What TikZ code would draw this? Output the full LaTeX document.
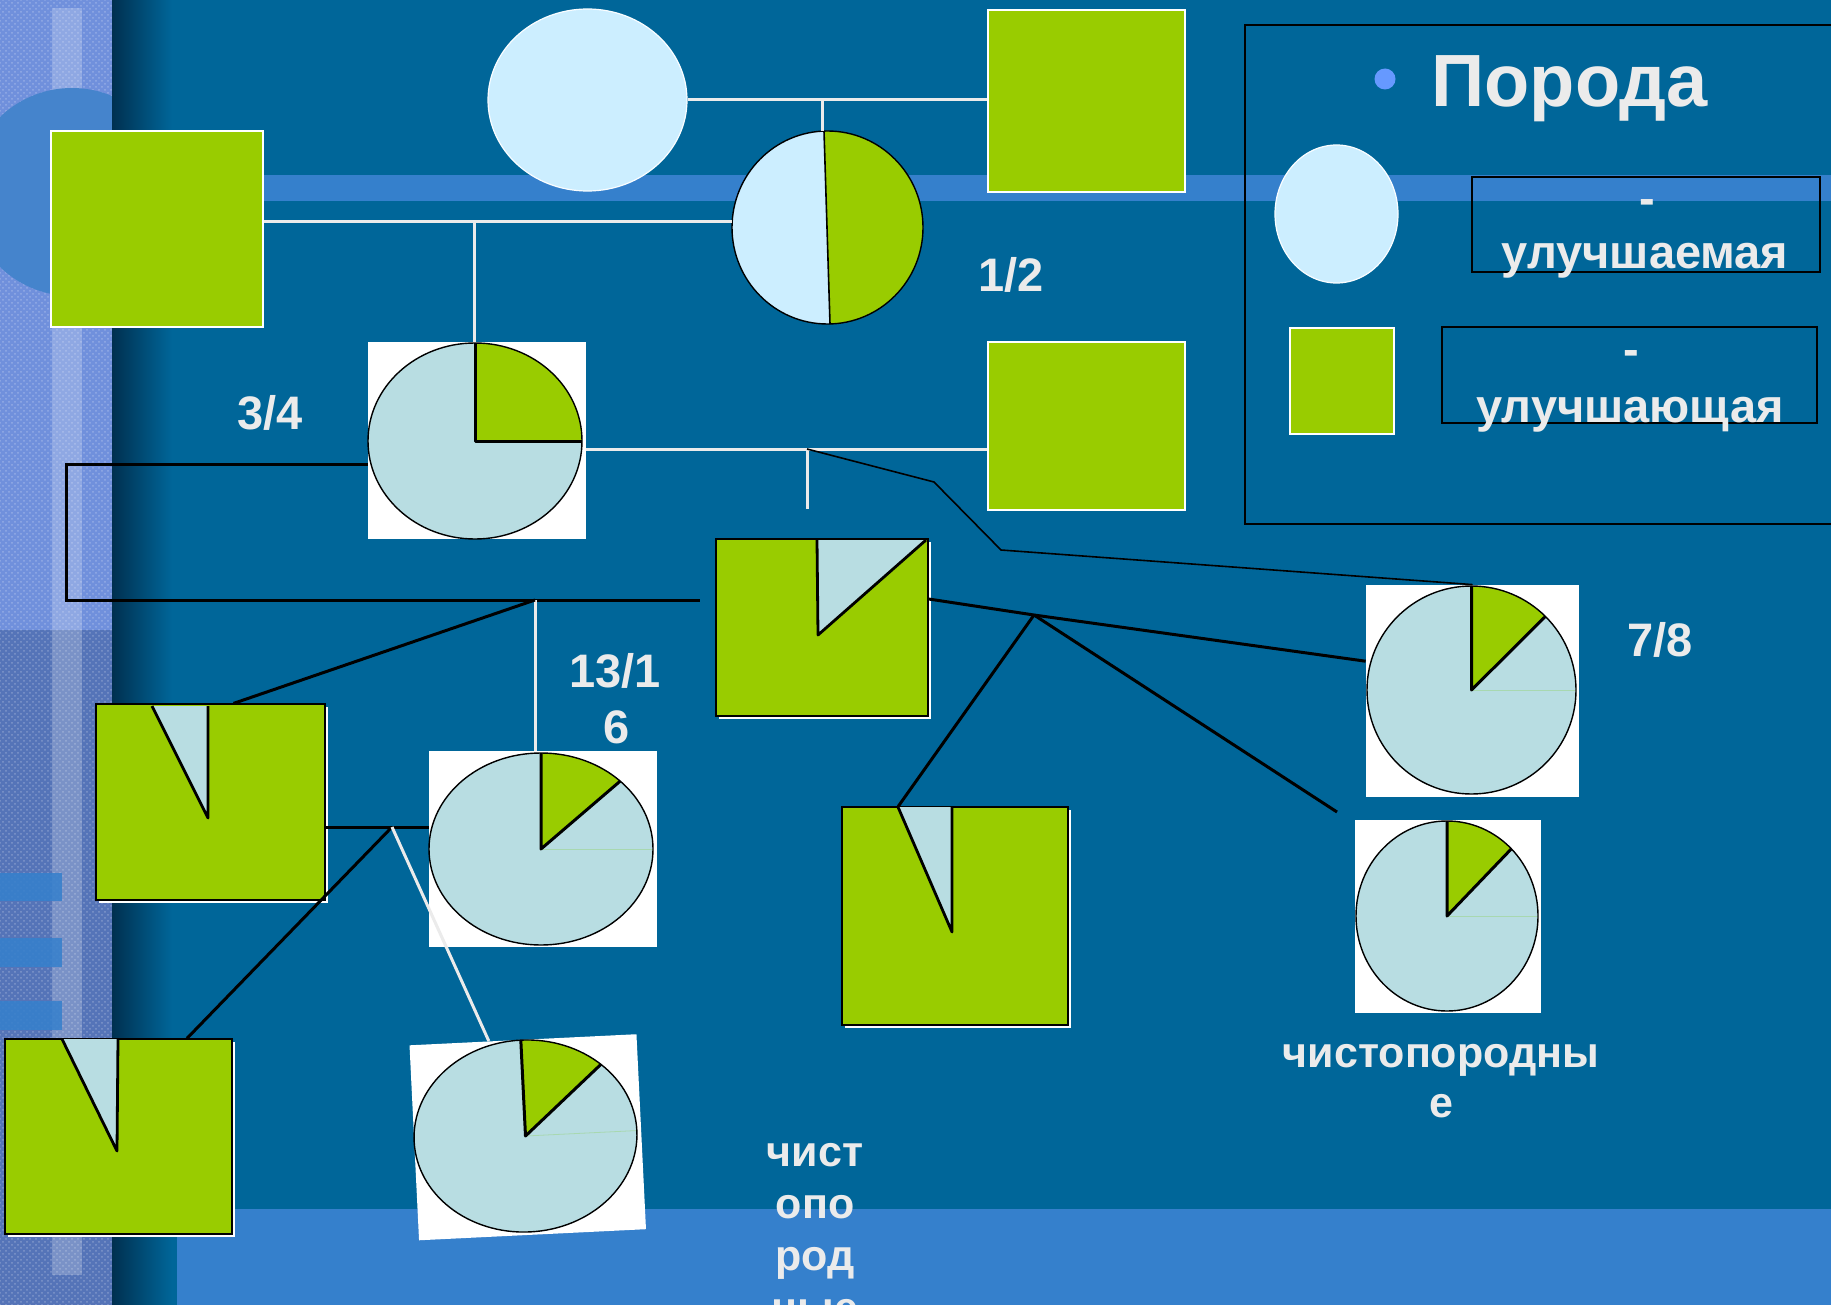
\documentclass[tikz,border=0pt]{standalone}
\usepackage{fontspec}
\setmainfont{Liberation Sans}
\usetikzlibrary{shapes.geometric,shadows,calc,patterns}
\definecolor{bgblue}{HTML}{006699}
\definecolor{bandblue}{HTML}{3580CC}
\definecolor{gr}{HTML}{99CC00}
\definecolor{lblue}{HTML}{CCEEFF}
\definecolor{pieblue}{HTML}{B8DDE2}
\definecolor{txt}{HTML}{EBEBEB}
\definecolor{texup}{HTML}{7090DC}
\definecolor{texdn}{HTML}{5574B8}
\definecolor{darkgrad}{HTML}{003050}
\definecolor{disc}{HTML}{4584CC}
\definecolor{bulletc}{HTML}{6699FF}
\definecolor{faintg}{HTML}{A8D8B0}
\newcommand\lblfont{\fontsize{23.5pt}{28pt}\selectfont\bfseries}
\newcommand\smlfont{\fontsize{21.5pt}{26pt}\selectfont\bfseries}
\newcommand\mypie[7][]{%
 \begin{scope}[shift={(#2,#3)},#1]
  \fill[pieblue] (0,0) ellipse[x radius=#4, y radius=#5];
  \fill[gr] (0,0) -- (#6:#4 and #5) arc[start angle=#6, end angle=#7, x radius=#4, y radius=#5] -- cycle;
  \draw[faintg, line width=0.4pt] (0,0) -- (0:#4 and #5);
  \draw[black, line width=0.7pt] (0,0) ellipse[x radius=#4, y radius=#5];
  \draw[black, line width=1.5pt, line join=round] (#6:#4 and #5) -- (0,0) -- (#7:#4 and #5);
 \end{scope}}
\begin{document}
\begin{tikzpicture}[x=0.5pt,y=-0.5pt,
  gsq/.style={rectangle, fill=gr, draw=white, line width=1pt, inner sep=0},
  tsq/.style={rectangle, fill=gr, draw=black, line width=0.6pt, inner sep=0,
     drop shadow={shadow xshift=1.5pt, shadow yshift=-1.5pt, fill=white, opacity=1}},
  lell/.style={ellipse, fill=lblue, draw=white!90!lblue, line width=0.6pt, inner sep=0},
  pbox/.style={rectangle, fill=white, inner sep=0},
  wline/.style={draw=txt, line width=1.5pt},
  bline/.style={draw=black, line width=1.5pt},
  thinb/.style={draw=black, line width=0.8pt},
  tline/.style={draw=black, line width=1.4pt, line join=round},
  lbl/.style={text=txt, font=\lblfont, inner sep=0, anchor=base},
  slbl/.style={text=txt, font=\smlfont, inner sep=0, anchor=base},
  frame/.style={rectangle, draw=black, line width=0.8pt, inner sep=0}
]
\useasboundingbox (0,0) rectangle (1831,1305);
% ---------- background ----------
\fill[bgblue] (0,0) rectangle (1831,1305);
\fill[texup] (0,0) rectangle (112,630);
\fill[texdn] (0,630) rectangle (112,1305);
\fill[pattern=crosshatch dots, pattern color=white, opacity=0.25] (0,0) rectangle (112,1305);
\fill[white, opacity=0.22] (52,8) rectangle (82,1275);
\begin{scope}
  \clip (0,0) rectangle (112,1305);
  \fill[disc] (72,192) circle[radius=52pt];
\end{scope}
\fill[bandblue, opacity=0.85] (0,873) rectangle (62,901);
\fill[bandblue, opacity=0.85] (0,938) rectangle (62,967);
\fill[bandblue, opacity=0.85] (0,1001) rectangle (62,1030);
\shade[left color=darkgrad, right color=bgblue] (112,0) rectangle (172,1305);
\fill[bandblue] (112,175) rectangle (1831,201);
\fill[bandblue] (177,1209) rectangle (1831,1305);

% ---------- legend ----------
\node[frame, minimum width=302.5pt, minimum height=249.5pt] (legend) at (1547.5,274.5) {};
\node[circle, fill=bulletc, inner sep=0, minimum size=10.5pt] (bul) at (1385,79) {};
\node[text=txt, font=\fontsize{37pt}{44pt}\selectfont\bfseries, inner sep=0, anchor=base west] (title) at (1431,107) {Порода};
\node[lell, minimum width=61.5pt, minimum height=69pt] (legell) at (1336.5,214) {};
\node[gsq, minimum width=52pt, minimum height=53pt] (legsq) at (1342,381) {};
\node[frame, minimum width=174pt, minimum height=47.5pt] (tbox1) at (1646,224.5) {};
\node[frame, minimum width=187.5pt, minimum height=48pt] (tbox2) at (1629.5,375) {};
\node[lbl] (d1) at (1647,215) {-};
\node[lbl] (w1) at (1645,269) {улучшаемая};
\node[lbl] (d2) at (1631,365) {-};
\node[lbl] (w2) at (1630,422) {улучшающая};

% ---------- pedigree shapes ----------
\node[lell, minimum width=99.5pt, minimum height=91pt] (topell) at (587.5,100) {};
\node[gsq, minimum width=98.5pt, minimum height=91pt] (topsq) at (1086.5,101) {};
\node[gsq, minimum width=106pt, minimum height=98pt] (leftsq) at (157,229) {};
\node[gsq, minimum width=98.5pt, minimum height=84pt] (sqr2) at (1086.5,426) {};

% half / half
\node[ellipse, fill=lblue, inner sep=0, minimum width=95.5pt, minimum height=96.5pt] (half) at (827.5,227.5) {};
\begin{scope}
  \clip (half.center) ellipse[x radius=47.75pt, y radius=48.25pt];
  \fill[gr] (823,100) -- (831,350) -- (950,350) -- (950,100) -- cycle;
\end{scope}
\draw[black, line width=0.8pt] (824,131) -- (830,324);
\draw[black, line width=0.7pt] (half.center) ellipse[x radius=47.75pt, y radius=48.25pt];

% 3/4 pie
\node[pbox, minimum width=109pt, minimum height=98.5pt] (pie34) at (477,440.5) {};
\mypie{475}{441}{53.5pt}{49pt}{90}{0}

% centre square with triangle
\node[tsq, minimum width=106pt, minimum height=88.5pt] (csq) at (822,627.5) {};
\fill[pieblue] (817,540) -- (926,540) -- (818,635) -- cycle;
\draw[tline] (817,540) -- (818,635) -- (926,540);

% left square with triangle
\node[tsq, minimum width=114.5pt, minimum height=98pt] (lsq) at (210.5,802) {};
\fill[pieblue] (152,706) -- (208,706) -- (208,818) -- cycle;
\draw[tline] (152,706) -- (208,818) -- (208,706);

% 13/16 pie
\node[pbox, minimum width=114pt, minimum height=98pt] (pie1316) at (543,849) {};
\mypie{541}{849}{56pt}{48pt}{90}{45}

% bottom-left square with triangle
\node[tsq, minimum width=113.5pt, minimum height=97.5pt] (blsq) at (118.5,1136.5) {};
\fill[pieblue] (62,1039) -- (118,1039) -- (117,1151) -- cycle;
\draw[tline] (62,1039) -- (117,1151) -- (118,1039);

% rotated pie
\node[pbox, rotate=2.8, minimum width=113.6pt, minimum height=97.6pt] (rpie) at (527.75,1137.25) {};
\mypie[rotate=2.8]{525.5}{1136}{55.75pt}{48pt}{90}{45}

% middle-bottom square with triangle
\node[tsq, minimum width=113pt, minimum height=109pt] (msq) at (955,916) {};
\fill[pieblue] (898,807) -- (952,807) -- (952,932) -- cycle;
\draw[tline] (898,807) -- (952,932) -- (952,807);

% 7/8 pie
\node[pbox, minimum width=106.5pt, minimum height=106pt] (pie78) at (1472.5,691) {};
\mypie{1471.5}{690}{52.25pt}{52pt}{90}{45}

% bottom-right pie
\node[pbox, minimum width=93pt, minimum height=96.5pt] (pierb) at (1448,916.5) {};
\mypie{1447}{916}{45.5pt}{47.5pt}{90}{45}

% ---------- connectors ----------
\coordinate (m1) at (822,100);
\draw[wline] (topell.east |- m1) -- (topsq.west |- m1);
\draw[wline] (m1) -- (m1 |- half.north);

\coordinate (m2) at (474,222);
\draw[wline] (leftsq.east |- m2) -- (half.west |- m2);
\draw[wline] (m2) -- (m2 |- pie34.north);

\coordinate (m3) at (807,449);
\coordinate (m3b) at (807,509);
\draw[wline] (pie34.east |- m3) -- (sqr2.west |- m3);
\draw[wline] (m3) -- (m3b);

\coordinate (k1) at (934,482);
\coordinate (k2) at (1001,550);
\draw[thinb] (m3) -- (k1) -- (k2) -- (pie78.north);

\coordinate (b1) at (66,464);
\coordinate (b2) at (700,600);
\draw[bline] (pie34.west |- b1) -- (b1) -- (b1 |- b2) -- (b2);

\coordinate (j4) at (535,600);
\draw[wline] (j4) -- (j4 |- pie1316.north);
\draw[bline] (j4) -- ($(lsq.north west)!0.6!(lsq.north east)$);

\coordinate (j5) at (392,827);
\draw[bline] (lsq.east |- j5) -- (pie1316.west |- j5);
\draw[bline] (j5) -- ($(blsq.north west)!0.8!(blsq.north east)$);
\draw[wline] (j5) -- ($(rpie.north west)!0.35!(rpie.north east)$);

\coordinate (j6) at (1034,615);
\coordinate (e1) at (1337,812);
\draw[bline] ($(csq.north east)!0.34!(csq.south east)$) -- (j6) -- ($(pie78.north west)!0.36!(pie78.south west)$);
\draw[bline] (j6) -- ($(msq.north west)!0.25!(msq.north east)$);
\draw[bline] (j6) -- (e1);

% ---------- labels ----------
\node[lbl] (t34) at (270,429) {3/4};
\node[lbl] (t12) at (1011,292) {1/2};
\node[lbl] (t78) at (1660,656) {7/8};
\node[lbl] (t1316a) at (615,687) {13/1};
\node[lbl] (t1316b) at (617,743) {6};
\node[slbl] (tch1) at (1441,1067) {чистопородны};
\node[slbl] (tch2) at (1441,1117) {е};
\node[slbl] (tc1) at (815,1166) {чист};
\node[slbl] (tc2) at (815,1218) {опо};
\node[slbl] (tc3) at (815,1270) {род};
\node[slbl] (tc4) at (815,1322) {ные};
\end{tikzpicture}
\end{document}
